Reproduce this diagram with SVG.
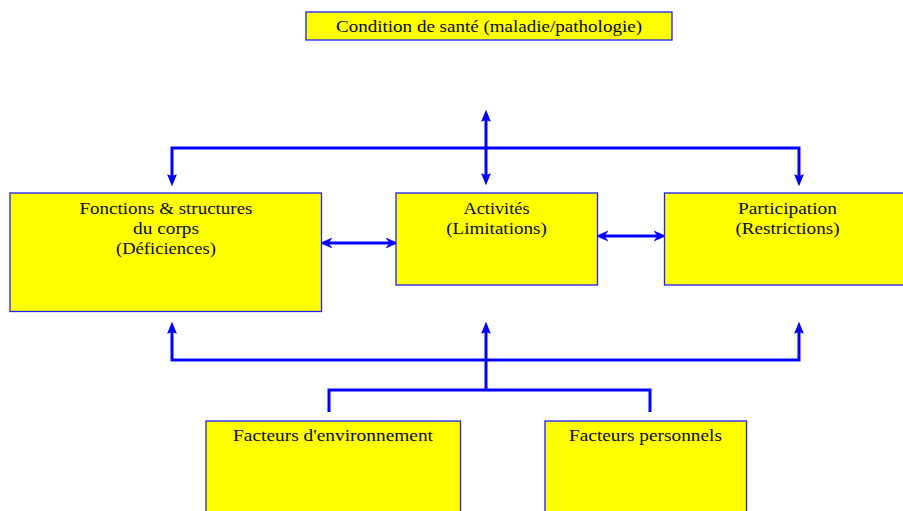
<svg xmlns="http://www.w3.org/2000/svg" width="903" height="511" viewBox="0 0 903 511">
  <defs>
    <style>
      .box { fill: #ffff00; stroke: #1e1eff; stroke-width: 1.3; }
      .lbl { font-family: "Liberation Serif", "Times New Roman", serif; font-size: 17.5px; fill: #0a0a0a; text-anchor: middle; }
      .wire { fill: none; stroke: #0000ff; stroke-width: 3; stroke-linejoin: miter; }
      .tip { marker-start: url(#solid); marker-end: url(#solid); }
      .tip-end { marker-end: url(#solid); }
      .dbl { marker-start: url(#barb); marker-end: url(#barb); }
    </style>
    <marker id="solid" markerUnits="userSpaceOnUse" markerWidth="12" markerHeight="12" viewBox="0 0 11 10" refX="7" refY="5" orient="auto-start-reverse">
      <path d="M0,0.5 L11,5 L0,9.5 L1.5,5 z" fill="#0000ff"/>
    </marker>
    <marker id="barb" markerUnits="userSpaceOnUse" markerWidth="12" markerHeight="12" viewBox="0 0 10 10" refX="6" refY="5" orient="auto-start-reverse">
      <path d="M0,0.8 L10,5 L0,9.2 L3.5,5 z" fill="#0000ff" stroke="#0000ff" stroke-width="0.4"/>
    </marker>
  </defs>

  <rect width="903" height="511" fill="#ffffff"/>

  <!-- connectors -->
  <g id="connectors">
    <!-- health condition hub: up/down arrow on the centre axis -->
    <path class="wire tip" d="M486,114 V181"/>
    <!-- upper bar feeding the two outer boxes -->
    <path class="wire tip" d="M172,182 V148 H799 V182"/>
    <!-- links between the three middle boxes -->
    <path class="wire dbl" d="M325,243 H393"/>
    <path class="wire dbl" d="M601,236 H661"/>
    <!-- lower bar rising into the three middle boxes -->
    <path class="wire tip" d="M172,326 V360 H799 V326"/>
    <path class="wire tip-end" d="M486,390 V326"/>
    <!-- bracket joining the contextual factors -->
    <path class="wire" d="M329,412 V390 H650 V412"/>
  </g>

  <g id="condition-sante">
    <rect class="box" x="306" y="12" width="366" height="28"/>
    <text class="lbl" x="489" y="32" textLength="306" lengthAdjust="spacingAndGlyphs">Condition de santé (maladie/pathologie)</text>
  </g>

  <g id="fonctions-structures">
    <rect class="box" x="10" y="193" width="311.5" height="118.5"/>
    <text class="lbl" x="166" y="214" textLength="173" lengthAdjust="spacingAndGlyphs">Fonctions &amp; structures</text>
    <text class="lbl" x="166" y="234" textLength="66" lengthAdjust="spacingAndGlyphs">du corps</text>
    <text class="lbl" x="166" y="254" textLength="100" lengthAdjust="spacingAndGlyphs">(Déficiences)</text>
  </g>

  <g id="activites">
    <rect class="box" x="396" y="193" width="201.5" height="92"/>
    <text class="lbl" x="496.5" y="214" textLength="66" lengthAdjust="spacingAndGlyphs">Activités</text>
    <text class="lbl" x="496.5" y="234" textLength="100.5" lengthAdjust="spacingAndGlyphs">(Limitations)</text>
  </g>

  <g id="participation">
    <rect class="box" x="664.5" y="193" width="246" height="92"/>
    <text class="lbl" x="787.5" y="214" textLength="99" lengthAdjust="spacingAndGlyphs">Participation</text>
    <text class="lbl" x="787.5" y="234" textLength="104" lengthAdjust="spacingAndGlyphs">(Restrictions)</text>
  </g>

  <g id="facteurs-environnement">
    <rect class="box" x="206" y="421" width="254.5" height="100"/>
    <text class="lbl" x="333" y="441" textLength="200" lengthAdjust="spacingAndGlyphs">Facteurs d'environnement</text>
  </g>

  <g id="facteurs-personnels">
    <rect class="box" x="545" y="421" width="201.5" height="100"/>
    <text class="lbl" x="645.5" y="441" textLength="153" lengthAdjust="spacingAndGlyphs">Facteurs personnels</text>
  </g>
</svg>
